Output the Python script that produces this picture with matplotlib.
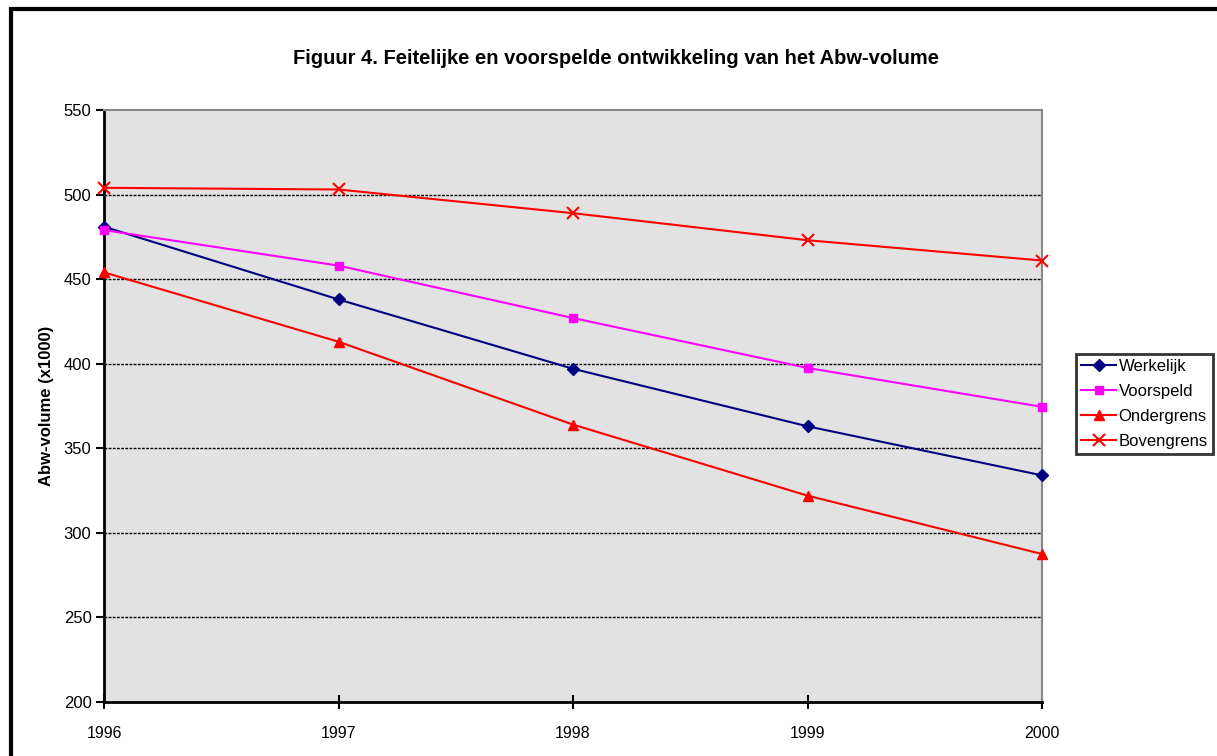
import matplotlib.pyplot as plt
from matplotlib.patches import Rectangle

plt.rcParams['font.family'] = ['Liberation Sans', 'DejaVu Sans']

years = [1996, 1997, 1998, 1999, 2000]
werkelijk = [481, 438, 397, 363, 334]
voorspeld = [479, 458, 427, 397.5, 374.5]
ondergrens = [454, 413, 364, 322, 287.5]
bovengrens = [504, 503, 489, 473, 461]

title = 'Figuur 4. Feitelijke en voorspelde ontwikkeling van het Abw-volume'
ylabel = 'Abw-volume (x1000)'

fig = plt.figure(figsize=(12.17, 7.56), dpi=100)
# outer chart frame, runs off the right and bottom edge
fig.patches.append(Rectangle((11 / 1217, -0.05), 1.1, 1 - 9 / 756 + 0.05,
                             transform=fig.transFigure, fill=False,
                             edgecolor='black', linewidth=3))

ax = fig.add_axes([104 / 1217, 1 - 702 / 756, 938 / 1217, 592 / 756])
ax.set_facecolor('#e2e2e2')

lw = 1.5
ax.plot(years, werkelijk, color='#000080', marker='D', markersize=6,
        lw=lw, label='Werkelijk', clip_on=False, zorder=5)
ax.plot(years, voorspeld, color='#ff00ff', marker='s', markersize=6,
        lw=lw, label='Voorspeld', clip_on=False, zorder=5)
ax.plot(years, ondergrens, color='#ff0000', marker='^', markersize=7,
        lw=lw, label='Ondergrens', clip_on=False, zorder=5)
ax.plot(years, bovengrens, color='#ff0000', marker='x', markersize=8,
        mew=1.5, lw=lw, label='Bovengrens', clip_on=False, zorder=5)

ax.set_xlim(1996, 2000)
ax.set_ylim(200, 550)
ax.set_xticks(years)
ax.set_yticks(range(200, 551, 50))
ax.tick_params(axis='y', direction='out', length=6, width=1.5,
               labelsize=12, pad=3)
ax.tick_params(axis='x', direction='inout', length=10, width=1.5,
               labelsize=11.5, pad=12)

for y in range(250, 501, 50):
    ax.axhline(y, color='black', lw=1, ls=(0, (2, 1)), zorder=1)

ax.spines['left'].set_linewidth(2)
ax.spines['bottom'].set_linewidth(2)
ax.spines['top'].set_color('#888888')
ax.spines['right'].set_color('#888888')
ax.spines['top'].set_linewidth(1.5)
ax.spines['right'].set_linewidth(1.5)

ax.set_ylabel(ylabel, fontsize=12, fontweight='bold', labelpad=7)
fig.text(616 / 1217, 1 - 64 / 756, title, ha='center', va='baseline',
         fontsize=14.5, fontweight='bold')

leg = fig.legend(loc='upper left', bbox_to_anchor=(1076 / 1217, 1 - 354 / 756),
                 fontsize=12, frameon=True, fancybox=False,
                 edgecolor='black', handlelength=2.1, handletextpad=0.15,
                 borderpad=0.3, labelspacing=0.6, borderaxespad=0,
                 markerscale=1.0)
leg.get_frame().set_linewidth(2)

fig.savefig('out.png', dpi=100)
